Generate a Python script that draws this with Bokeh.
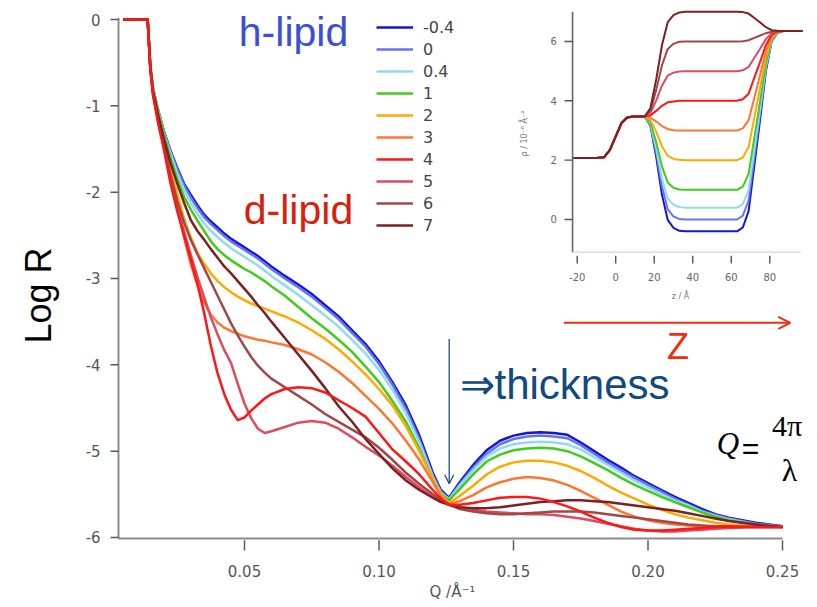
from bokeh.plotting import figure
from bokeh.models import Range1d, Label, Arrow, OpenHead, Legend, LegendItem
from bokeh.core.properties import value
from bokeh.embed import file_html
from bokeh.resources import INLINE
import math

# ---------------- main plot data: log10 reflectivity vs Q ----------------
q = [0.0050, 0.0140, 0.0150, 0.0160, 0.0180, 0.0200, 0.0225, 0.0250, 0.0275, 0.0300,
     0.0325, 0.0350, 0.0375, 0.0400, 0.0425, 0.0450, 0.0475, 0.0500, 0.0525, 0.0550,
     0.0575, 0.0600, 0.0650, 0.0700, 0.0750, 0.0800, 0.0850, 0.0900, 0.0950, 0.1000,
     0.1050, 0.1100, 0.1150, 0.1200, 0.1230, 0.1260, 0.1300, 0.1350, 0.1400, 0.1450,
     0.1500, 0.1550, 0.1600, 0.1650, 0.1700, 0.1750, 0.1800, 0.1850, 0.1900, 0.1950,
     0.2000, 0.2050, 0.2100, 0.2150, 0.2200, 0.2250, 0.2300, 0.2400, 0.2500]

logR_m04 = [0, 0, -0.55, -0.80, -1.06, -1.29, -1.52, -1.72, -1.90, -2.03,
            -2.15, -2.26, -2.34, -2.41, -2.48, -2.54, -2.59, -2.64, -2.69, -2.74,
            -2.80, -2.86, -2.97, -3.07, -3.18, -3.31, -3.44, -3.60, -3.76, -3.96,
            -4.20, -4.47, -4.82, -5.25, -5.45, -5.54, -5.36, -5.16, -4.99, -4.88,
            -4.82, -4.79, -4.78, -4.79, -4.81, -4.90, -5.00, -5.10, -5.19, -5.29,
            -5.37, -5.45, -5.53, -5.60, -5.67, -5.73, -5.77, -5.83, -5.87]
logR_0 = [0, 0, -0.55, -0.80, -1.06, -1.30, -1.53, -1.74, -1.92, -2.06,
          -2.18, -2.29, -2.37, -2.44, -2.51, -2.57, -2.62, -2.67, -2.72, -2.77,
          -2.83, -2.89, -3.00, -3.10, -3.21, -3.34, -3.47, -3.63, -3.79, -3.99,
          -4.23, -4.51, -4.86, -5.28, -5.47, -5.55, -5.38, -5.19, -5.03, -4.92,
          -4.86, -4.83, -4.82, -4.83, -4.85, -4.93, -5.03, -5.13, -5.22, -5.31,
          -5.39, -5.47, -5.55, -5.62, -5.69, -5.74, -5.78, -5.84, -5.87]
logR_04 = [0, 0, -0.55, -0.80, -1.07, -1.31, -1.55, -1.78, -1.97, -2.12,
           -2.25, -2.36, -2.45, -2.52, -2.59, -2.65, -2.70, -2.75, -2.80, -2.85,
           -2.91, -2.97, -3.08, -3.19, -3.31, -3.43, -3.56, -3.71, -3.87, -4.06,
           -4.29, -4.56, -4.90, -5.30, -5.48, -5.56, -5.40, -5.22, -5.06, -4.97,
           -4.92, -4.90, -4.89, -4.90, -4.92, -4.98, -5.07, -5.16, -5.25, -5.34,
           -5.42, -5.50, -5.57, -5.63, -5.70, -5.75, -5.79, -5.85, -5.88]
logR_1 = [0, 0, -0.55, -0.81, -1.08, -1.32, -1.60, -1.85, -2.05, -2.20,
          -2.33, -2.45, -2.57, -2.66, -2.73, -2.79, -2.84, -2.89, -2.93, -2.98,
          -3.03, -3.09, -3.20, -3.33, -3.46, -3.58, -3.71, -3.85, -4.02, -4.20,
          -4.42, -4.66, -4.97, -5.33, -5.50, -5.57, -5.44, -5.27, -5.12, -5.04,
          -4.99, -4.97, -4.96, -4.97, -5.00, -5.06, -5.14, -5.22, -5.31, -5.39,
          -5.46, -5.53, -5.59, -5.65, -5.71, -5.76, -5.80, -5.85, -5.88]
logR_2 = [0, 0, -0.56, -0.83, -1.12, -1.38, -1.72, -2.02, -2.30, -2.52,
          -2.70, -2.83, -2.94, -3.03, -3.10, -3.16, -3.21, -3.25, -3.29, -3.32,
          -3.35, -3.38, -3.44, -3.51, -3.60, -3.70, -3.82, -3.96, -4.11, -4.28,
          -4.47, -4.71, -5.00, -5.32, -5.50, -5.60, -5.52, -5.40, -5.27, -5.18,
          -5.13, -5.11, -5.11, -5.13, -5.17, -5.23, -5.31, -5.40, -5.48, -5.55,
          -5.62, -5.68, -5.73, -5.77, -5.80, -5.83, -5.85, -5.87, -5.88]
logR_3 = [0, 0, -0.56, -0.84, -1.14, -1.42, -1.80, -2.17, -2.52, -2.83,
          -3.08, -3.28, -3.42, -3.51, -3.57, -3.61, -3.64, -3.67, -3.69, -3.71,
          -3.72, -3.74, -3.77, -3.82, -3.88, -3.97, -4.08, -4.21, -4.36, -4.51,
          -4.68, -4.88, -5.10, -5.36, -5.52, -5.61, -5.58, -5.51, -5.42, -5.36,
          -5.32, -5.30, -5.31, -5.34, -5.39, -5.46, -5.54, -5.62, -5.70, -5.76,
          -5.80, -5.83, -5.85, -5.86, -5.87, -5.87, -5.87, -5.88, -5.88]
logR_4 = [0, 0, -0.58, -0.88, -1.22, -1.50, -1.90, -2.22, -2.50, -2.78,
          -3.06, -3.40, -3.78, -4.10, -4.34, -4.52, -4.64, -4.61, -4.53, -4.46,
          -4.39, -4.34, -4.28, -4.26, -4.27, -4.32, -4.41, -4.50, -4.60, -4.79,
          -4.98, -5.12, -5.27, -5.45, -5.55, -5.62, -5.62, -5.60, -5.57, -5.54,
          -5.53, -5.53, -5.55, -5.59, -5.64, -5.70, -5.77, -5.83, -5.88, -5.91,
          -5.92, -5.92, -5.91, -5.90, -5.89, -5.88, -5.88, -5.88, -5.88]
logR_5 = [0, 0, -0.58, -0.87, -1.20, -1.47, -1.85, -2.17, -2.45, -2.72,
          -2.98, -3.22, -3.45, -3.65, -3.83, -3.98, -4.22, -4.45, -4.62, -4.74,
          -4.79, -4.77, -4.72, -4.67, -4.65, -4.67, -4.74, -4.84, -4.95, -5.05,
          -5.17, -5.30, -5.42, -5.53, -5.58, -5.62, -5.65, -5.68, -5.70, -5.71,
          -5.72, -5.73, -5.73, -5.74, -5.76, -5.78, -5.81, -5.84, -5.87, -5.90,
          -5.92, -5.93, -5.93, -5.92, -5.91, -5.90, -5.89, -5.88, -5.88]
logR_6 = [0, 0, -0.57, -0.86, -1.17, -1.45, -1.80, -2.10, -2.35, -2.55,
          -2.72, -2.88, -3.04, -3.20, -3.36, -3.52, -3.66, -3.79, -3.91, -4.01,
          -4.09, -4.16, -4.26, -4.36, -4.46, -4.57, -4.66, -4.75, -4.84, -4.96,
          -5.10, -5.25, -5.38, -5.50, -5.57, -5.62, -5.67, -5.70, -5.72, -5.73,
          -5.73, -5.72, -5.71, -5.70, -5.70, -5.70, -5.71, -5.73, -5.75, -5.77,
          -5.79, -5.81, -5.83, -5.85, -5.86, -5.87, -5.87, -5.88, -5.88]
logR_7 = [0, 0, -0.56, -0.83, -1.12, -1.38, -1.66, -1.90, -2.12, -2.32,
          -2.45, -2.55, -2.66, -2.76, -2.86, -2.94, -3.03, -3.12, -3.21, -3.31,
          -3.40, -3.50, -3.69, -3.88, -4.07, -4.27, -4.48, -4.66, -4.86, -5.03,
          -5.20, -5.34, -5.45, -5.54, -5.59, -5.62, -5.65, -5.66, -5.66, -5.65,
          -5.63, -5.61, -5.59, -5.58, -5.57, -5.57, -5.58, -5.59, -5.61, -5.63,
          -5.65, -5.67, -5.69, -5.72, -5.75, -5.78, -5.81, -5.85, -5.88]

series_labels = ["-0.4", "0", "0.4", "1", "2", "3", "4", "5", "6", "7"]
series_logR = [logR_m04, logR_0, logR_04, logR_1, logR_2, logR_3, logR_4, logR_5, logR_6, logR_7]
series_colors = ["#1414d8", "#6674f0", "#8fdcec", "#3fcc1e", "#ffa800", "#ff7632",
                 "#ff1616", "#e04a5e", "#a04848", "#7c2020"]

# ---------------- inset data: scattering length density profiles ----------------
z = [-22, -10, -6, -3, 0, 3, 6, 9, 15, 18, 21, 24, 27, 30, 33, 36, 50, 63,
     66, 69, 72, 75, 78, 81, 84, 87, 97]
base = [2.07, 2.07, 2.10, 2.35, 2.80, 3.25, 3.44, 3.47, 3.47]
rho_m04 = base + [3.16, 2.12, 0.84, -0.01, -0.28, -0.38, -0.40, -0.40, -0.40,
                  -0.27, 0.28, 1.83, 3.38, 5.00, 6.01, 6.28, 6.35, 6.35]
rho_0 = base + [3.19, 2.26, 1.11, 0.35, 0.10, 0.02, 0.00, 0.00, 0.00,
                0.13, 0.64, 2.10, 3.56, 5.08, 6.03, 6.29, 6.35, 6.35]
rho_04 = base + [3.22, 2.40, 1.38, 0.71, 0.49, 0.42, 0.40, 0.40, 0.40,
                 0.52, 1.00, 2.36, 3.73, 5.16, 6.05, 6.29, 6.35, 6.35]
rho_1 = base + [3.27, 2.61, 1.79, 1.25, 1.07, 1.01, 1.00, 1.00, 1.00,
                1.11, 1.54, 2.77, 4.00, 5.28, 6.08, 6.30, 6.35, 6.35]
rho_2 = base + [3.35, 2.96, 2.47, 2.15, 2.04, 2.01, 2.00, 2.00, 2.00,
                2.09, 2.44, 3.44, 4.44, 5.48, 6.13, 6.31, 6.35, 6.35]
rho_3 = base + [3.43, 3.31, 3.15, 3.05, 3.01, 3.00, 3.00, 3.00, 3.00,
                3.07, 3.34, 4.11, 4.88, 5.68, 6.18, 6.32, 6.35, 6.35]
rho_4 = base + [3.51, 3.66, 3.83, 3.95, 3.98, 4.00, 4.00, 4.00, 4.00,
                4.05, 4.24, 4.78, 5.32, 5.88, 6.23, 6.33, 6.35, 6.35]
rho_5 = base + [3.59, 4.01, 4.51, 4.85, 4.95, 4.99, 5.00, 5.00, 5.00,
                5.03, 5.14, 5.45, 5.76, 6.08, 6.28, 6.34, 6.35, 6.35]
rho_6 = base + [3.67, 4.36, 5.19, 5.75, 5.92, 5.99, 6.00, 6.00, 6.00,
                6.01, 6.04, 6.12, 6.20, 6.28, 6.33, 6.35, 6.35, 6.35]
rho_7 = base + [3.75, 4.71, 5.87, 6.65, 6.89, 6.98, 7.00, 7.00, 7.00,
                6.99, 6.94, 6.79, 6.64, 6.48, 6.38, 6.36, 6.35, 6.35]
series_rho = [rho_m04, rho_0, rho_04, rho_1, rho_2, rho_3, rho_4, rho_5, rho_6, rho_7]

# ---------------- ticks ----------------
x_ticks = [0.05, 0.10, 0.15, 0.20, 0.25]
x_tick_labels = ["0.05", "0.10", "0.15", "0.20", "0.25"]
y_ticks = [0, -1, -2, -3, -4, -5, -6]
y_tick_labels = ["0", "-1", "-2", "-3", "-4", "-5", "-6"]
inset_x_ticks = [-20, 0, 20, 40, 60, 80]
inset_x_tick_labels = ["-20", "0", "20", "40", "60", "80"]
inset_y_ticks = [0, 2, 4, 6]
inset_y_tick_labels = ["0", "2", "4", "6"]

# ---------------- figure: the frame covers the whole canvas ----------------
p = figure(width=817, height=607, min_border=0, title=None,
           x_axis_location=None, y_axis_location=None,
           x_range=Range1d(-0.040706, 0.263011), y_range=Range1d(-6.8111, 0.22009),
           output_backend="svg", toolbar_location=None)
p.outline_line_color = None
p.xgrid.visible = False
p.ygrid.visible = False
p.background_fill_color = "white"

# main axes (drawn through the main scales)
q_lo, q_hi = 0.00316, 0.25
r_lo, r_hi = -6.012, 0.02
AX = "#8c8c8c"
TK = "#5a5a5a"
LB = "#555555"
p.line([q_lo, q_lo], [r_lo, r_hi], line_color=AX, line_width=2)
p.line([q_lo, q_hi], [r_lo, r_lo], line_color=AX, line_width=2)
p.segment(x0=[q_lo] * len(y_ticks), y0=y_ticks, x1=[q_lo - 0.00297] * len(y_ticks), y1=y_ticks,
          line_color=TK, line_width=1.5)
p.text(x=[-0.0035] * len(y_ticks), y=y_ticks, text=y_tick_labels, text_align="right",
       text_baseline="middle", text_font=value("DejaVu Sans"), text_font_size="15px",
       text_color=LB)
p.segment(x0=x_ticks, y0=[r_lo - 0.02] * len(x_ticks), x1=x_ticks, y1=[-6.151] * len(x_ticks),
          line_color=TK, line_width=1.5)
p.text(x=x_ticks, y=[-6.394] * len(x_ticks), text=x_tick_labels, text_align="center",
       text_baseline="middle", text_font=value("DejaVu Sans"), text_font_size="15px",
       text_color=LB)

renderers = []
for vals, col in zip(series_logR, series_colors):
    r = p.line(q, vals, line_color=col, line_width=2.5, line_join="round")
    renderers.append(r)
# the red (4) curve lies on top, as in the original
p.renderers.remove(renderers[6])
p.renderers.append(renderers[6])

legend = Legend(items=[LegendItem(label=lab, renderers=[r]) for lab, r in zip(series_labels, renderers)],
                location=(376, 372), padding=0, margin=0, spacing=2,
                glyph_width=37, glyph_height=20, label_height=20, label_standoff=10,
                label_text_font="DejaVu Sans", label_text_font_size="16px",
                label_text_color="#444444", background_fill_alpha=0,
                border_line_color=None)
p.add_layout(legend)

# ---------------- inset (own scales) ----------------
p.extra_x_ranges = {"z": Range1d(-319.43, 104.77)}
p.extra_y_ranges = {"rho": Range1d(-13.077, 7.381)}
inset_z_lo, inset_z_hi = -22.4, 96.0
inset_rho_lo, inset_rho_hi = -1.1, 7.0

p.line([inset_z_lo, inset_z_lo], [inset_rho_lo, inset_rho_hi], x_range_name="z", y_range_name="rho",
       line_color="#666666", line_width=1.6)
p.line([inset_z_lo, inset_z_hi], [inset_rho_lo, inset_rho_lo], x_range_name="z", y_range_name="rho",
       line_color="#d4d4d4", line_width=1.2)
p.segment(x0=[inset_z_lo] * len(inset_y_ticks), y0=inset_y_ticks,
          x1=[inset_z_lo - 4.2] * len(inset_y_ticks), y1=inset_y_ticks,
          x_range_name="z", y_range_name="rho", line_color="#555555", line_width=1.4)
p.text(x=[-30.5] * len(inset_y_ticks), y=inset_y_ticks, text=inset_y_tick_labels,
       x_range_name="z", y_range_name="rho", text_align="right", text_baseline="middle",
       text_font=value("DejaVu Sans"), text_font_size="10px", text_color="#666666")
p.segment(x0=inset_x_ticks, y0=[-1.22] * len(inset_x_ticks),
          x1=inset_x_ticks, y1=[-1.48] * len(inset_x_ticks),
          x_range_name="z", y_range_name="rho", line_color="#555555", line_width=1.4)
p.text(x=inset_x_ticks, y=[-1.95] * len(inset_x_ticks), text=inset_x_tick_labels,
       x_range_name="z", y_range_name="rho", text_align="center", text_baseline="middle",
       text_font=value("DejaVu Sans"), text_font_size="10px", text_color="#666666")
p.text(x=[33.6], y=[-2.58], text=["z / Å"], x_range_name="z", y_range_name="rho",
       text_align="center", text_baseline="middle", text_font=value("DejaVu Sans"),
       text_font_size="8px", text_color="#777777")
p.text(x=[-47.5], y=[2.9], text=["ρ / 10⁻⁶ Å⁻²"], angle=math.pi / 2,
       x_range_name="z", y_range_name="rho", text_align="center", text_baseline="middle",
       text_font=value("DejaVu Sans"), text_font_size="8px", text_color="#777777")

for vals, col in zip(series_rho, series_colors):
    p.line(z, vals, x_range_name="z", y_range_name="rho", line_color=col, line_width=2.0)

# ---------------- annotations ----------------
p.add_layout(Label(x=-0.02658, y=-3.197, text="Log R", angle=math.pi / 2,
                   text_align="center", text_baseline="alphabetic",
                   text_font="Liberation Sans", text_font_size="36px", text_color="black"))
p.add_layout(Label(x=0.1273, y=-6.637, text="Q /Å⁻¹", text_align="center", text_baseline="middle",
                   text_font="DejaVu Sans", text_font_size="15px", text_color="#555555"))
p.add_layout(Label(x=0.06822, y=-0.150, text="h-lipid", text_align="center",
                   text_baseline="alphabetic", text_font="Liberation Sans",
                   text_font_size="41px", text_color="#3d4ed6"))
p.add_layout(Label(x=0.07007, y=-2.209, text="d-lipid", text_align="center",
                   text_baseline="alphabetic", text_font="Liberation Sans",
                   text_font_size="41px", text_color="#d8200a"))
p.add_layout(Label(x=0.12993, y=-4.224, text="⇒thickness", text_align="left",
                   text_baseline="alphabetic", text_font="Liberation Sans",
                   text_font_size="42px", text_color="#124a80"))
p.add_layout(Label(x=0.21115, y=-3.792, text="Z", text_align="center",
                   text_baseline="alphabetic", text_font="Liberation Sans",
                   text_font_size="36px", text_color="#f22c0c"))
p.add_layout(Label(x=0.22974, y=-4.915, text="Q", text_align="center",
                   text_baseline="alphabetic", text_font="Liberation Serif",
                   text_font_style="italic", text_font_size="31px", text_color="black"))
p.add_layout(Label(x=0.2381, y=-4.964, text="=", text_align="center",
                   text_baseline="alphabetic", text_font="Liberation Sans",
                   text_font_size="30px", text_color="black"))
p.add_layout(Label(x=0.25174, y=-4.703, text="4π", text_align="center",
                   text_baseline="alphabetic", text_font="Liberation Serif",
                   text_font_size="30px", text_color="black"))
p.add_layout(Label(x=0.2526, y=-5.213, text="λ", text_align="center",
                   text_baseline="alphabetic", text_font="Liberation Serif",
                   text_font_size="32px", text_color="black"))

p.add_layout(Arrow(end=OpenHead(size=12, line_color="#f22c0c", line_width=2),
                   x_start=0.1687, y_start=-3.513, x_end=0.2529, y_end=-3.513,
                   line_color="#f22c0c", line_width=2))
p.add_layout(Arrow(end=OpenHead(size=9, line_color="#1f4f86", line_width=1.3),
                   x_start=0.1261, y_start=-3.70, x_end=0.1261, y_end=-5.378,
                   line_color="#1f4f86", line_width=1.3))

open("out.html", "w").write(file_html(p, INLINE))
